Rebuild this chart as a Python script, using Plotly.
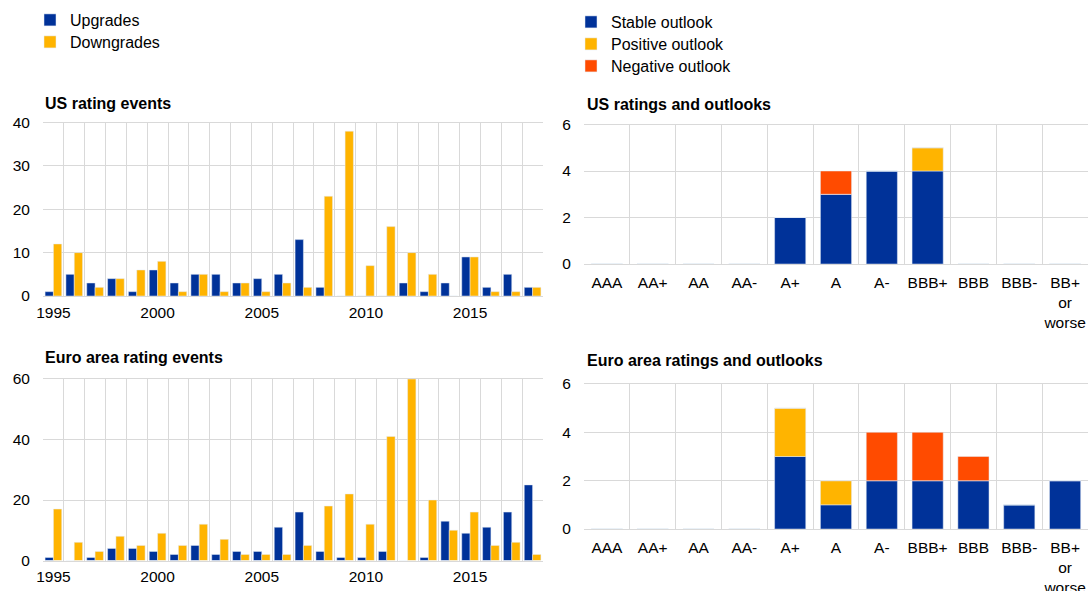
import plotly.graph_objects as go

W, H = 1088, 591

years = list(range(1995, 2019))
us_upgrades = [1, 5, 3, 4, 1, 6, 3, 5, 5, 3, 4, 5, 13, 2, 0, 0, 0, 3, 1, 3, 9, 2, 5, 2]
us_downgrades = [12, 10, 2, 4, 6, 8, 1, 5, 1, 3, 1, 3, 2, 23, 38, 7, 16, 10, 5, 0, 9, 1, 1, 2]
ea_upgrades = [1, 0, 1, 4, 4, 3, 2, 5, 2, 3, 3, 11, 16, 3, 1, 1, 3, 0, 1, 13, 9, 11, 16, 25]
ea_downgrades = [17, 6, 3, 8, 5, 9, 5, 12, 7, 2, 2, 2, 5, 18, 22, 12, 41, 60, 20, 10, 16, 5, 6, 2]
year_ticks = [1995, 2000, 2005, 2010, 2015]

ratings = ["AAA", "AA+", "AA", "AA-", "A+", "A", "A-", "BBB+", "BBB", "BBB-", "BB+<br>or<br>worse"]
us_stable = [0, 0, 0, 0, 2, 3, 4, 4, 0, 0, 0]
us_positive = [0, 0, 0, 0, 0, 0, 0, 1, 0, 0, 0]
us_negative = [0, 0, 0, 0, 0, 1, 0, 0, 0, 0, 0]
ea_stable = [0, 0, 0, 0, 3, 1, 2, 2, 2, 1, 2]
ea_positive = [0, 0, 0, 0, 2, 1, 0, 0, 0, 0, 0]
ea_negative = [0, 0, 0, 0, 0, 0, 2, 2, 1, 0, 0]

BLUE = "#003299"
YELLOW = "#FFB400"
RED = "#FF4B00"
GRID = "#d9d9d9"
FONT = "Liberation Sans, Arial, sans-serif"


def px_x(p):
    return p / W


def px_y(p):
    return 1 - p / H


fig = go.Figure()

# left: rating events (grouped bars)
for xa, ya, up, down, show in [("x", "y", us_upgrades, us_downgrades, True),
                                ("x2", "y2", ea_upgrades, ea_downgrades, False)]:
    fig.add_trace(go.Bar(x=years, y=up, name="Upgrades", marker_color=BLUE,
                         xaxis=xa, yaxis=ya, showlegend=show, legend="legend",
                         offsetgroup="up"))
    fig.add_trace(go.Bar(x=years, y=down, name="Downgrades", marker_color=YELLOW,
                         xaxis=xa, yaxis=ya, showlegend=show, legend="legend2",
                         offsetgroup="down"))

# right: ratings and outlooks (stacked via base)
for xa, ya, st, pos, neg, show in [("x3", "y3", us_stable, us_positive, us_negative, True),
                                   ("x4", "y4", ea_stable, ea_positive, ea_negative, False)]:
    base_neg = [a + b for a, b in zip(st, pos)]
    fig.add_trace(go.Bar(x=ratings, y=st, name="Stable outlook", marker_color=BLUE,
                         xaxis=xa, yaxis=ya, showlegend=show, legend="legend3",
                         offsetgroup="r", width=0.68))
    fig.add_trace(go.Bar(x=ratings, y=pos, base=st, name="Positive outlook", marker_color=YELLOW,
                         xaxis=xa, yaxis=ya, showlegend=show, legend="legend4",
                         offsetgroup="r", width=0.68))
    fig.add_trace(go.Bar(x=ratings, y=neg, base=base_neg, name="Negative outlook", marker_color=RED,
                         xaxis=xa, yaxis=ya, showlegend=show, legend="legend5",
                         offsetgroup="r", width=0.68))

tickfont = dict(family=FONT, size=15.5, color="#000")

left_x = dict(domain=[px_x(43), px_x(543)], range=[1994.5, 2018.5], tickmode="array",
              tickvals=year_ticks, showgrid=False, ticks="outside", ticklen=2, tickcolor="white",
              minor=dict(tickmode="linear", tick0=1994.5, dtick=1, showgrid=True, gridcolor=GRID, gridwidth=1),
              showline=True, linecolor=GRID, mirror=True, tickfont=tickfont, zeroline=False,
              automargin=False, tickangle=0)
right_x = dict(domain=[px_x(584), 1.0], type="category", tickson="boundaries", showgrid=True,
               gridcolor=GRID, ticks="outside", ticklen=10, tickcolor="white",
               ticklabelstandoff=4,
               showline=True, linecolor=GRID, mirror=True, tickfont=tickfont,
               automargin=False, tickangle=0)
y_common = dict(showgrid=True, gridcolor=GRID, zeroline=False, ticks="outside", ticklen=9,
                tickcolor="white", tickfont=tickfont, automargin=False)


def legend_at(x, y):
    # one legend per item so the rows sit exactly where the reference has them
    return dict(x=px_x(x), y=px_y(y), xanchor="left", yanchor="top",
                font=dict(family=FONT, size=16, color="#000"),
                itemwidth=30, bgcolor="rgba(0,0,0,0)")


fig.update_layout(
    xaxis=dict(left_x, anchor="y"),
    xaxis2=dict(left_x, anchor="y2"),
    xaxis3=dict(right_x, anchor="y3"),
    xaxis4=dict(right_x, anchor="y4"),
    yaxis=dict(y_common, domain=[px_y(296), px_y(122.5)], range=[0, 40], dtick=10, anchor="x"),
    yaxis2=dict(y_common, domain=[px_y(560.5), px_y(379)], range=[0, 60], dtick=20, anchor="x2"),
    yaxis3=dict(y_common, domain=[px_y(264), px_y(124.5)], range=[0, 6], dtick=2, anchor="x3"),
    yaxis4=dict(y_common, domain=[px_y(529), px_y(384)], range=[0, 6], dtick=2, anchor="x4"),
    barmode="group",
    bargap=0.2,
    bargroupgap=0,
    width=W,
    height=H,
    margin=dict(l=0, r=0, t=0, b=0, autoexpand=False),
    paper_bgcolor="white",
    plot_bgcolor="white",
    font=dict(family=FONT, size=16, color="#000"),
    legend=legend_at(30, 3),
    legend2=legend_at(30, 25),
    legend3=legend_at(571, 5),
    legend4=legend_at(571, 27),
    legend5=legend_at(571, 49),
)

titles = [
    ("<b>US rating events</b>", 43, 103),
    ("<b>Euro area rating events</b>", 43, 357),
    ("<b>US ratings and outlooks</b>", 585, 104),
    ("<b>Euro area ratings and outlooks</b>", 585, 360),
]
for text, x, y in titles:
    fig.add_annotation(text=text, x=px_x(x), y=px_y(y), xref="paper", yref="paper",
                       xanchor="left", yanchor="middle", showarrow=False,
                       font=dict(family=FONT, size=16, color="#000"))

# page body margin would push the figure 8px down and right
fig.write_html("out.html", config={"displayModeBar": False},
               post_script="document.body.style.margin='0';")
